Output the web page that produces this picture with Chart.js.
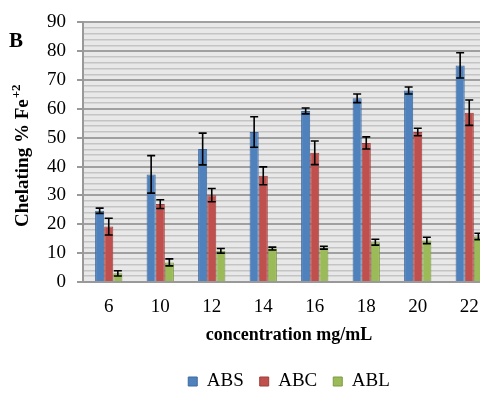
<!DOCTYPE html>
<html lang="en">
<head>
  <meta charset="UTF-8" />
  <title>Chelating % Fe+2</title>
  <style>
    html, body {
      margin: 0;
      padding: 0;
      background: #fff;
      overflow: hidden;
    }
    #wrap {
      width: 578px;
      height: 401px;
      position: relative;
    }
  </style>
</head>
<body>
  <div id="wrap">
    <canvas id="chelChart"></canvas>
  </div>

  <script src="https://cdn.jsdelivr.net/npm/chart.js"></script>

  <script>
    // concentrations (mg/mL)
    const categories = ['6', '10', '12', '14', '16', '18', '20', '22'];

    // chelating % for each extract
    const absValues = [24.7, 37.3, 46.1, 52.0, 59.3, 63.7, 66.4, 75.1];
    const absErrors = [0.9, 6.5, 5.5, 5.3, 1.0, 1.5, 1.2, 4.4];
    const abcValues = [19.2, 27.0, 30.1, 36.8, 44.8, 48.2, 52.0, 58.7];
    const abcErrors = [2.9, 1.5, 2.3, 3.1, 4.1, 2.1, 1.3, 4.4];
    const ablValues = [3.0, 6.8, 10.8, 11.6, 11.9, 13.8, 14.4, 15.8];
    const ablErrors = [0.9, 1.2, 0.8, 0.5, 0.5, 1.0, 1.1, 1.1];

    const serif = "'Liberation Serif', 'Times New Roman', serif";

    // grey plot background
    const plotBg = {
      id: 'plotBg',
      beforeDraw(chart) {
        const { ctx, chartArea: a } = chart;
        ctx.save();
        ctx.fillStyle = '#e8e8e8';
        ctx.fillRect(a.left, a.top, a.right - a.left, a.bottom - a.top);
        ctx.restore();
      }
    };

    // error bars drawn from each dataset's errors array
    const errorBars = {
      id: 'errorBars',
      afterDatasetsDraw(chart) {
        const { ctx } = chart;
        const y = chart.scales.y;
        ctx.save();
        ctx.strokeStyle = '#000';
        ctx.lineWidth = 1.6;
        chart.data.datasets.forEach((ds, i) => {
          const meta = chart.getDatasetMeta(i);
          meta.data.forEach((bar, j) => {
            const v = ds.data[j], e = ds.errors[j];
            const top = y.getPixelForValue(v + e);
            const bot = y.getPixelForValue(v - e);
            ctx.beginPath();
            ctx.moveTo(bar.x, top); ctx.lineTo(bar.x, bot);
            ctx.moveTo(bar.x - 4, top); ctx.lineTo(bar.x + 4, top);
            ctx.moveTo(bar.x - 4, bot); ctx.lineTo(bar.x + 4, bot);
            ctx.stroke();
          });
        });
        ctx.restore();
      }
    };

    // panel letter + y title with superscript charge
    const labels = {
      id: 'labels',
      afterDraw(chart) {
        const { ctx } = chart;
        ctx.save();
        ctx.fillStyle = '#000';
        ctx.textBaseline = 'alphabetic';
        ctx.font = 'bold 21px ' + serif;
        ctx.fillText('B', 9, 47);

        const main = 'Chelating % Fe', sup = '+2';
        const mainFont = 'bold 19px ' + serif, supFont = 'bold 13px ' + serif;
        ctx.font = mainFont;
        const wMain = ctx.measureText(main).width;
        ctx.font = supFont;
        const wSup = ctx.measureText(sup).width;
        const a = chart.chartArea;
        ctx.translate(28, (a.top + a.bottom) / 2 + 4);
        ctx.rotate(-Math.PI / 2);
        const x0 = -(wMain + wSup) / 2;
        ctx.font = mainFont;
        ctx.fillText(main, x0, 0);
        ctx.font = supFont;
        ctx.fillText(sup, x0 + wMain + 1, -8);
        ctx.restore();
      }
    };

    const ctx = document.getElementById('chelChart').getContext('2d');
    new Chart(ctx, {
      type: 'bar',
      data: {
        labels: categories,
        datasets: [
          { label: 'ABS', data: absValues, errors: absErrors,
            backgroundColor: '#4f81bd', borderColor: '#3d6a9e', borderWidth: 1 },
          { label: 'ABC', data: abcValues, errors: abcErrors,
            backgroundColor: '#c0504d', borderColor: '#9e3f3c', borderWidth: 1 },
          { label: 'ABL', data: ablValues, errors: ablErrors,
            backgroundColor: '#9bbb59', borderColor: '#7c9a44', borderWidth: 1 }
        ]
      },
      options: {
        responsive: true,
        maintainAspectRatio: false,
        animation: false,
        layout: { padding: { top: 20, right: 83, left: 0, bottom: 0 } },
        datasets: {
          bar: { barPercentage: 1, categoryPercentage: 0.53 }
        },
        scales: {
          x: {
            grid: { display: false, drawTicks: false },
            border: { display: true, color: '#999', width: 2 },
            ticks: { color: '#000', padding: 14, font: { family: serif, size: 19 } },
            title: {
              display: true,
              text: 'concentration mg/mL',
              color: '#000',
              font: { family: serif, size: 18, weight: 'bold' },
              padding: { top: 4, bottom: 10 }
            },
            afterFit(scale) { scale.height = 74; }
          },
          y: {
            min: 0,
            max: 90,
            ticks: {
              stepSize: 2,
              color: '#000',
              padding: 11,
              font: { family: serif, size: 19 },
              autoSkip: false,
              callback: v => (v % 10 === 0 ? v : '')
            },
            grid: {
              color: c => (c.tick && c.tick.value % 10 === 0 ? '#a0a0a0' : '#c4c4c4'),
              lineWidth: c => (c.tick && c.tick.value % 10 === 0 ? 2 : 1.5),
              tickColor: c => (c.tick && c.tick.value % 10 === 0 ? '#999' : 'rgba(0,0,0,0)'),
              tickLength: 6
            },
            border: { display: true, color: '#999', width: 2 },
            title: { display: false },
            afterFit(scale) { scale.width = 83; }
          }
        },
        plugins: {
          legend: {
            position: 'bottom',
            fullSize: false,
            labels: {
              color: '#000',
              boxWidth: 9,
              boxHeight: 9,
              padding: 16,
              font: { family: serif, size: 19 }
            }
          },
          tooltip: { enabled: false }
        }
      },
      plugins: [plotBg, errorBars, labels]
    });
  </script>
</body>
</html>
